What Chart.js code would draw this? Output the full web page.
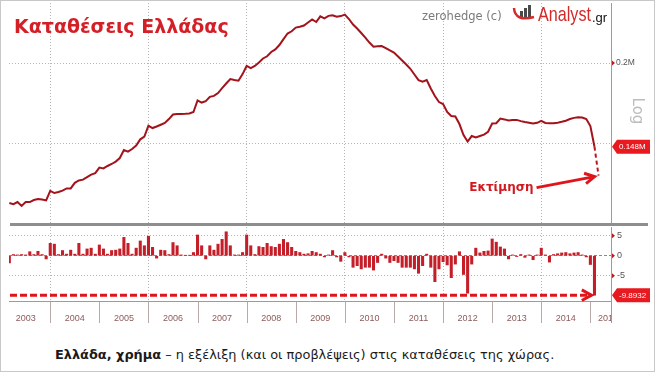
<!DOCTYPE html>
<html>
<head>
<meta charset="utf-8">
<title>Καταθέσεις Ελλάδας</title>
<script src="https://cdn.jsdelivr.net/npm/chart.js@4.4.0/dist/chart.umd.min.js"></script>
<style>
  html, body { margin: 0; padding: 0; background: #fff; }
  #page { position: relative; width: 656px; height: 377px; overflow: hidden; }
  #frame { position: absolute; left: 0; top: 0; width: 653px; height: 370px; border: 1px solid #c8c8c8; }
  #depositsChart { position: absolute; left: 0; top: 0; }
  #flowChart { position: absolute; left: 0; top: 226px; }
  .txt { position: absolute; white-space: nowrap; }
  #title { left: 14px; top: 17px; font: bold 19px/19px "DejaVu Sans"; color: #d41f26; }
  #source { left: 422px; top: 10px; font: 11.5px/12px "DejaVu Sans"; color: #7a7a7a; }
  #logo { left: 512px; top: 0; width: 100px; height: 26px; }
  #caption { left: 55px; top: 348px; font: 12.9px/13px "DejaVu Sans"; color: #1a1a1a; }
</style>
</head>
<body>
<div id="page">
  <div id="frame"></div>
  <canvas id="depositsChart" width="656" height="226"></canvas>
  <canvas id="flowChart" width="656" height="100"></canvas>
  <div id="title" class="txt">Καταθέσεις Ελλάδας</div>
  <div id="source" class="txt">zerohedge (c)</div>
  <div id="logo" class="txt">
    <svg width="25" height="22" style="position:absolute;left:0;top:3px">
      <rect x="8" y="8" width="3" height="8" fill="#4a4a4a"/>
      <rect x="12" y="5" width="3" height="11" fill="#4a4a4a"/>
      <rect x="16" y="2" width="3" height="14" fill="#4a4a4a"/>
      <path d="M2 5 Q3 19 22 14" fill="none" stroke="#d42a2a" stroke-width="2.5"/>
    </svg>
    <span style="position:absolute;left:26px;top:2px;font:21px/24px 'Liberation Sans';color:#d42a2a;transform:scaleX(0.77);transform-origin:0 0;">Analyst</span>
    <span style="position:absolute;left:80px;top:11px;font:13px/13px 'Liberation Sans';color:#111">.gr</span>
  </div>
  <div id="caption" class="txt"><b>Ελλάδα, χρήμα</b> – η εξέλιξη (και οι προβλέψεις) στις καταθέσεις της χώρας.</div>
</div>
<script>
// ---- data ----
var startYear = 2003;
var startMonth = 3; // first monthly observation
var yearLabels = ['2003', '2004', '2005', '2006', '2007', '2008', '2009', '2010', '2011', '2012', '2013', '2014', '2015'];
var gridYears = [2004, 2006, 2008, 2010, 2012, 2014];
var logTicks = [150, 200];      // € bn -> shown as 0.2M
var changeTicks = [-5, 0, 5];

// deposits, € bn, monthly
var deposits = [
  120.9, 120.4, 121.3, 119.6, 121.3, 121.3, 122.2, 122.6, 122.4, 122.0,
  126.3, 125.3, 125.8, 126.4, 127.4, 127.4, 130.0, 131.1, 131.5, 132.7, 133.9, 134.6,
  137.3, 136.9, 138.1, 139.1, 140.3, 142.1, 146.3, 145.4, 146.8, 148.6, 152.0, 153.5,
  159.6, 158.3, 159.2, 160.2, 161.2, 163.5, 166.2, 166.5, 166.5, 166.6, 166.8, 167.7,
  174.8, 173.5, 174.4, 177.1, 177.7, 179.5, 182.8, 185.8, 188.8, 188.1, 187.7, 192.2,
  197.9, 196.4, 197.9, 200.4, 203.3, 204.9, 208.1, 210.0, 213.4, 218.0, 222.4, 224.2,
  227.2, 227.9, 228.9, 231.4, 233.9, 231.8, 236.6, 234.9, 237.0, 237.5, 236.2, 236.8,
  238.1, 234.3, 229.7, 226.4, 222.8, 219.2, 215.3, 212.1, 212.4, 212.6, 211.1, 209.3,
  207.7, 204.7, 201.8, 198.9, 195.9, 191.9, 188.1, 187.1, 188.1, 182.5, 177.6, 173.8,
  172.6, 167.7, 165.3, 165.0, 160.6, 154.4, 150.8, 153.8, 153.0, 153.8, 154.6, 156.2,
  160.9, 161.1, 163.8, 163.3, 162.7, 162.9, 163.0, 162.3, 161.8, 161.4, 160.9, 161.3,
  162.5, 161.2, 161.0, 161.0, 161.4, 161.9, 162.5, 163.5, 164.2, 164.5, 164.4, 163.5,
  159.4, 148.0
];
var estimate = [133.4]; // Εκτίμηση

// monthly change, € bn
var changes = [
  -1.8, 0.3, 0.2, 0.3, 0.2, 1.0, 0.3, 1.1, 0.3, -0.8,
  3.1, 2.9, 0.3, 1.3, 0.4, 1.4, 0.4, 3.1, 0.4, 1.7, 1.9, 0.4,
  2.7, 1.7, 0.4, 1.3, 1.4, 1.7, 4.6, 3.1, 0.4, 1.9, 3.7, 2.5,
  4.9, 2.1, -0.6, 1.4, 1.3, 0.3, 3.3, 2.5, 0.2, 0.1, 0.1, 0.8,
  5.2, 2.5, -0.8, 2.5, 1.4, 2.9, 4.1, 6.0, 2.5, 0.2, 0.2, 0.8,
  5.2, 2.5, 0.3, 2.3, 2.1, 3.1, 2.3, 2.1, 2.9, 4.1, 3.3, 2.1,
  1.1, 0.8, 0.4, 0.5, 1.1, 0.8, 0.4, -0.3, 0.2, 1.3, -0.3, -1.4,
  0.8, -0.3, -2.9, -2.5, -3.3, -2.9, -2.9, -3.6, -1.7, 0.4, -0.6, -1.7,
  -1.25, -1.7, -2.9, -2.9, -2.9, -3.3, -4.4, -2.5, 0.4, -2.9, -6.5, -3.3,
  -1.5, -2.3, -5.5, -2.1, 1.0, -4.7, -9.4, -2.1, 1.9, 0.7, 1.1, 1.2,
  4.2, 3.4, 2.2, 1.7, -0.8, 0.2, -0.2, 0.3, -0.4, 0.2, -1.0, 0.2,
  1.9, 0.2, -1.6, 0.3, 0.5, 0.7, 0.8, 0.5, 0.7, 0.8, 0.2, -0.3,
  -2.2, -9.8932
];

function monthX(i) { return startYear + (startMonth - 1 + i) / 12; }

var xMin = 2003.16, xMax = 2015.42;
var gridGray = '#b4b4b4';
var axisGray = '#9c9c9c';
var red = '#e0151c';

Chart.defaults.font.family = 'DejaVu Sans';
Chart.defaults.animation = false;
Chart.defaults.responsive = false;
Chart.defaults.plugins.legend.display = false;
Chart.defaults.plugins.tooltip.enabled = false;

function xAxis(height, showBorder) {
  return {
    type: 'linear', min: xMin, max: xMax, offset: false,
    afterBuildTicks: function(s) { s.ticks = gridYears.map(function(v) { return {value: v}; }); },
    afterFit: function(s) { s.height = height; s.paddingLeft = 0; s.paddingRight = 0; },
    grid: {color: gridGray, lineWidth: 1, drawTicks: false, offset: false},
    border: {display: showBorder, color: axisGray, dash: function(c) { return c.tick ? [1, 2] : []; }},
    ticks: {display: false}
  };
}

function marker(ctx, x, y) {
  ctx.fillStyle = '#c0181f';
  ctx.beginPath();
  ctx.moveTo(x + 1, y - 2.5);
  ctx.lineTo(x + 4, y);
  ctx.lineTo(x + 1, y + 2.5);
  ctx.closePath();
  ctx.fill();
}

function tag(ctx, x, y, text) {
  ctx.fillStyle = '#e8191f';
  ctx.beginPath();
  ctx.moveTo(x, y);
  ctx.lineTo(x + 5, y - 7);
  ctx.lineTo(x + 38, y - 7);
  ctx.lineTo(x + 38, y + 7);
  ctx.lineTo(x + 5, y + 7);
  ctx.closePath();
  ctx.fill();
  ctx.fillStyle = '#fff';
  ctx.font = '8px "Liberation Sans"';
  ctx.textAlign = 'left';
  ctx.textBaseline = 'middle';
  ctx.fillText(text, x + 7, y + 0.5);
}

function arrow(ctx, x0, y0, x1, y1, dash) {
  ctx.strokeStyle = red;
  ctx.lineWidth = 3;
  ctx.setLineDash(dash || []);
  ctx.beginPath();
  ctx.moveTo(x0, y0);
  ctx.lineTo(x1, y1);
  ctx.stroke();
  ctx.setLineDash([]);
  var a = Math.atan2(y1 - y0, x1 - x0);
  ctx.beginPath();
  ctx.moveTo(x1 - 11 * Math.cos(a - 0.5), y1 - 11 * Math.sin(a - 0.5));
  ctx.lineTo(x1, y1);
  ctx.lineTo(x1 - 11 * Math.cos(a + 0.5), y1 - 11 * Math.sin(a + 0.5));
  ctx.stroke();
}

var last = deposits.length - 1;

// top panel extras: separator, markers, last value, Log, estimate arrow
var depositMarks = {
  id: 'depositMarks',
  afterDraw: function(chart) {
    var ctx = chart.ctx, a = chart.chartArea, x = chart.scales.x, y = chart.scales.y;
    ctx.save();
    ctx.fillStyle = '#8e8e8e';
    ctx.fillRect(10, a.bottom, 638, 3);
    y.ticks.forEach(function(t) {
      if (t.label) marker(ctx, a.right, y.getPixelForValue(t.value));
    });
    tag(ctx, a.right + 1, y.getPixelForValue(deposits[last]), (deposits[last] / 1000).toFixed(3) + 'M');

    ctx.save();
    ctx.translate(636.5, 111);
    ctx.rotate(Math.PI / 2);
    ctx.fillStyle = '#bdbdbd';
    ctx.font = '15px "DejaVu Sans"';
    ctx.textAlign = 'center';
    ctx.textBaseline = 'middle';
    ctx.fillText('Log', 0, 0);
    ctx.restore();

    var px = x.getPixelForValue(monthX(last + 1)), py = y.getPixelForValue(estimate[0]);
    arrow(ctx, px - 62, py + 12, px - 4, py + 1);
    ctx.fillStyle = '#d3191f';
    ctx.font = 'bold 12px "DejaVu Sans"';
    ctx.textAlign = 'right';
    ctx.textBaseline = 'middle';
    ctx.fillText('Εκτίμηση', px - 65, py + 12);
    ctx.restore();
  }
};

// bottom panel extras: dashed arrow, markers, last value, year row
var flowMarks = {
  id: 'flowMarks',
  afterDraw: function(chart) {
    var ctx = chart.ctx, a = chart.chartArea, x = chart.scales.x, y = chart.scales.y;
    var n = changes.length - 1;
    var lx = x.getPixelForValue(monthX(n)), ly = y.getPixelForValue(changes[n]);
    ctx.save();
    arrow(ctx, a.left + 1, ly, lx - 3, ly, [7, 3]);
    y.ticks.forEach(function(t) { marker(ctx, a.right, y.getPixelForValue(t.value)); });
    tag(ctx, a.right + 1, ly, changes[n].toFixed(4));

    var top = a.bottom + 1, bottom = a.bottom + 22;
    ctx.strokeStyle = '#b9aaaa';
    ctx.lineWidth = 1;
    yearLabels.forEach(function(lab) {
      var bx = Math.round(x.getPixelForValue(+lab + 1)) + 0.5;
      if (bx < a.right) {
        ctx.beginPath(); ctx.moveTo(bx, top); ctx.lineTo(bx, bottom); ctx.stroke();
      }
    });
    ctx.strokeStyle = axisGray;
    ctx.beginPath(); ctx.moveTo(a.right + 0.5, a.bottom); ctx.lineTo(a.right + 0.5, bottom); ctx.stroke();

    ctx.beginPath(); ctx.rect(0, top, a.right, bottom - top + 4); ctx.clip();
    ctx.fillStyle = '#8d5b5b';
    ctx.font = '9px "Liberation Sans"';
    ctx.textAlign = 'center';
    ctx.textBaseline = 'middle';
    yearLabels.forEach(function(lab) {
      var cx = Math.min(x.getPixelForValue(+lab + 0.5), a.right - 3);
      ctx.fillText(lab, cx, a.bottom + 18);
    });
    ctx.restore();
  }
};

new Chart(document.getElementById('depositsChart'), {
  type: 'line',
  data: {
    datasets: [{
      data: deposits.map(function(v, i) { return {x: monthX(i), y: v}; }),
      borderColor: '#a3131b', borderWidth: 2, pointRadius: 0, tension: 0
    }, {
      data: [{x: monthX(last), y: deposits[last]}].concat(estimate.map(function(v, i) { return {x: monthX(last + 1 + i), y: v}; })),
      borderColor: '#c0141c', borderWidth: 2, borderDash: [4, 3], pointRadius: 0, tension: 0
    }]
  },
  options: {
    devicePixelRatio: 1,
    layout: {padding: {left: 9, top: 3, right: 0, bottom: 3}},
    scales: {
      x: xAxis(0, false),
      y: {
        type: 'logarithmic', position: 'right', min: 112.5, max: 248.2,
        afterBuildTicks: function(s) { s.ticks = logTicks.map(function(v) { return {value: v}; }); },
        afterFit: function(s) { s.width = 45; s.paddingTop = 0; s.paddingBottom = 0; },
        grid: {color: gridGray, drawTicks: false},
        border: {color: axisGray, dash: function(c) { return c.tick ? [1, 2] : []; }},
        ticks: {
          padding: 5, color: '#555', font: {family: 'Liberation Sans', size: 8.5},
          callback: function(v) { return v === 200 ? (v / 1000) + 'M' : ''; }
        }
      }
    }
  },
  plugins: [depositMarks]
});

new Chart(document.getElementById('flowChart'), {
  type: 'bar',
  data: {
    datasets: [{
      data: changes.map(function(v, i) { return {x: monthX(i), y: v}; }),
      backgroundColor: '#c41e28', barThickness: 2.4
    }]
  },
  options: {
    devicePixelRatio: 1,
    layout: {padding: {left: 9, top: 1, right: 0, bottom: 0}},
    scales: {
      x: xAxis(25, true),
      y: {
        type: 'linear', position: 'right', min: -11.35, max: 7.2,
        afterBuildTicks: function(s) { s.ticks = changeTicks.map(function(v) { return {value: v}; }); },
        afterFit: function(s) { s.width = 45; s.paddingTop = 0; s.paddingBottom = 0; },
        grid: {color: function(c) { return c.tick && c.tick.value === 0 ? '#8a8a8a' : gridGray; }, drawTicks: false},
        border: {color: axisGray, dash: function(c) { return !c.tick ? [] : (c.tick.value === 0 ? [3, 2] : [1, 2]); }},
        ticks: {padding: 6, color: '#555', font: {family: 'Liberation Sans', size: 9}}
      }
    }
  },
  plugins: [flowMarks]
});
</script>
</body>
</html>
